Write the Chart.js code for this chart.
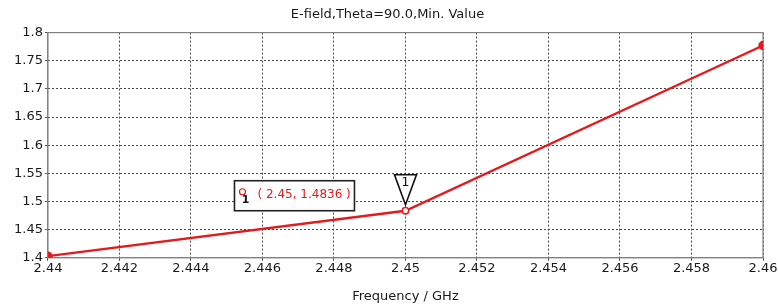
<!DOCTYPE html>
<html>
<head>
<meta charset="utf-8">
<script src="https://cdn.jsdelivr.net/npm/chart.js@4/dist/chart.umd.min.js"></script>
<style>
  html, body { margin: 0; padding: 0; background: #fff; }
  #wrap { width: 778px; height: 307px; }
</style>
</head>
<body>
<div id="wrap"><canvas id="efield"></canvas></div>
<script>
// data
var freq = [2.44, 2.45, 2.46];
var emin = [1.403, 1.4836, 1.777];
var markerFreq = 2.45;
var markerVal = 1.4836;
var markerLabel = "( 2.45, 1.4836 )";

var red = '#e41a1c';
var txt = '#1a1a1a';

var pts = freq.map(function (f, i) { return { x: f, y: emin[i] }; });

// marker box + triangle, hfss style
var markerPlugin = {
  id: 'markerPlugin',
  afterDatasetsDraw: function (chart) {
    var ctx = chart.ctx;
    var xs = chart.scales.x, ys = chart.scales.y;
    var px = xs.getPixelForValue(markerFreq);
    var py = ys.getPixelForValue(markerVal);
    ctx.save();
    // hollow circle at marker
    ctx.fillStyle = '#fff';
    ctx.strokeStyle = red;
    ctx.lineWidth = 1.5;
    ctx.beginPath(); ctx.arc(px, py, 3.2, 0, Math.PI * 2); ctx.fill(); ctx.stroke();
    // triangle above
    ctx.fillStyle = '#fff';
    ctx.strokeStyle = '#111';
    ctx.lineWidth = 1.6;
    ctx.beginPath();
    ctx.moveTo(px, py - 6);
    ctx.lineTo(px - 11, py - 36);
    ctx.lineTo(px + 11, py - 36);
    ctx.closePath();
    ctx.fill(); ctx.stroke();
    ctx.fillStyle = '#111';
    ctx.font = '13px "DejaVu Sans"';
    ctx.textAlign = 'center';
    ctx.textBaseline = 'middle';
    ctx.fillText('1', px, py - 28);
    // label box
    var bx = px - 171, by = py - 30, bw = 120, bh = 30;
    ctx.lineWidth = 1.6;
    ctx.strokeStyle = '#222';
    ctx.fillStyle = '#fff';
    ctx.fillRect(bx, by, bw, bh);
    ctx.strokeRect(bx, by, bw, bh);
    ctx.strokeStyle = red;
    ctx.lineWidth = 1.2;
    ctx.beginPath(); ctx.arc(bx + 8, by + 11, 3, 0, Math.PI * 2); ctx.stroke();
    ctx.fillStyle = '#111';
    ctx.font = 'bold 11px "DejaVu Sans"';
    ctx.fillText('1', bx + 11, by + 19);
    ctx.fillStyle = red;
    ctx.font = '12px "DejaVu Sans"';
    ctx.textAlign = 'left';
    ctx.fillText(markerLabel, bx + 23, by + 14);
    ctx.restore();
  }
};

var fmt = function (v) { return String(+v.toFixed(4)); };

var efieldCtx = document.getElementById('efield');
var efieldConfig = {
  type: 'scatter',
  data: {
    datasets: [{
      data: pts,
      showLine: true,
      borderColor: red,
      backgroundColor: red,
      borderWidth: 2.4,
      pointRadius: [3.5, 0, 3.5],
      pointHoverRadius: 0,
      tension: 0
    }]
  },
  options: {
    responsive: true,
    maintainAspectRatio: false,
    animation: false,
    layout: { padding: { left: 12, right: 15, top: 0, bottom: 3 } },
    plugins: {
      legend: { display: false },
      tooltip: { enabled: false },
      title: {
        display: true,
        text: 'E-field,Theta=90.0,Min. Value',
        color: txt,
        font: { family: 'DejaVu Sans', size: 13, weight: 'normal' },
        padding: { top: 7, bottom: 10 }
      }
    },
    scales: {
      x: {
        type: 'linear',
        min: 2.44, max: 2.46,
        border: { display: true, color: '#888', width: 1, dash: [2, 2] },
        grid: { color: '#4a4a4a', tickLength: 3, tickBorderDash: [], tickColor: '#555' },
        ticks: {
          stepSize: 0.002, color: txt, padding: 0, maxRotation: 0,
          font: { family: 'DejaVu Sans', size: 13 },
          callback: fmt
        },
        title: {
          display: true, text: 'Frequency / GHz', color: txt,
          font: { family: 'DejaVu Sans', size: 13 }, padding: { top: 12, bottom: 0 }
        }
      },
      y: {
        min: 1.4, max: 1.8,
        border: { display: true, color: '#888', width: 1, dash: [2, 2] },
        grid: { color: '#4a4a4a', tickLength: 3, tickBorderDash: [], tickColor: '#555' },
        ticks: {
          stepSize: 0.05, color: txt, padding: 2,
          font: { family: 'DejaVu Sans', size: 13 },
          callback: fmt
        }
      }
    }
  },
  plugins: [markerPlugin, {
    id: 'frame',
    beforeDatasetsDraw: function (chart) {
      var a = chart.chartArea, c = chart.ctx;
      c.save();
      c.strokeStyle = '#808080';
      c.lineWidth = 1.2;
      c.strokeRect(a.left, a.top, a.right - a.left, a.bottom - a.top);
      c.restore();
    }
  }]
};
var efieldChart = new Chart(efieldCtx, efieldConfig);
</script>
</body>
</html>
